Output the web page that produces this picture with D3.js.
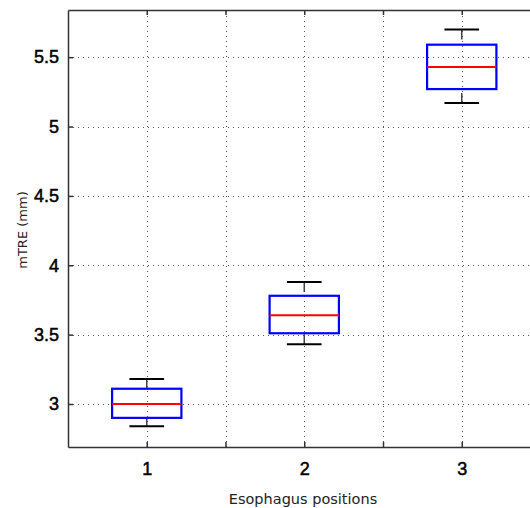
<!DOCTYPE html>
<html><head><meta charset="utf-8">
<script src="https://cdn.jsdelivr.net/npm/d3@7"></script>
<style>body{margin:0;background:#fff}svg{display:block}</style>
</head><body>
<script>
// Data
const categories = [1, 2, 3];
const lowerWhisker = [2.84, 3.43, 5.17];
const q1 = [2.90, 3.51, 5.27];
const median = [3.00, 3.64, 5.43];
const q3 = [3.11, 3.78, 5.59];
const upperWhisker = [3.18, 3.88, 5.70];
const yTicks = [3, 3.5, 4, 4.5, 5, 5.5];
const xTicks = [1, 1.5, 2, 2.5, 3];
const xTickLabels = ["1", "", "2", "", "3"];
const xLabel = "Esophagus positions";
const yLabel = "mTRE (mm)";

const W = 530, H = 508;
const svg = d3.select("body").append("svg").attr("width", W).attr("height", H);
const x = d3.scaleLinear().domain([0.5, 3.5]).range([68, 540.5]);
const y = d3.scaleLinear().domain([2.69, 5.84]).range([447, 10]);
const fontTick = "'DejaVu Sans', sans-serif";

// grid
const grid = svg.append("g").attr("stroke", "#555").attr("stroke-width", 1).attr("stroke-dasharray", "1,4");
yTicks.forEach(t => grid.append("line").attr("x1", x(0.5)).attr("x2", x(3.5)).attr("y1", Math.round(y(t)) + 0.5).attr("y2", Math.round(y(t)) + 0.5));
xTicks.forEach(t => grid.append("line").attr("y1", y(2.69)).attr("y2", y(5.84)).attr("x1", Math.round(x(t)) + 0.5).attr("x2", Math.round(x(t)) + 0.5));

// axes via d3 axes (inward ticks)
const ax = svg.append("g").attr("font-family", fontTick);
const axLeft = ax.append("g").attr("transform", "translate(68,0)")
  .call(d3.axisLeft(y).tickValues(yTicks).tickSizeInner(-5).tickSizeOuter(0).tickFormat(d3.format("")).tickPadding(9));
const axBottom = ax.append("g").attr("transform", "translate(0,447)")
  .call(d3.axisBottom(x).tickValues(xTicks).tickSizeInner(-5).tickSizeOuter(0).tickFormat((d, i) => xTickLabels[i]).tickPadding(15));
const axTop = ax.append("g").attr("transform", "translate(0,10)")
  .call(d3.axisTop(x).tickValues(xTicks).tickSizeInner(-5).tickSizeOuter(0).tickFormat(""));
[axLeft, axBottom, axTop].forEach(g => {
  g.select(".domain").attr("stroke", "#333").attr("stroke-width", 1.5);
  g.selectAll(".tick line").attr("stroke", "#333").attr("stroke-width", 1.5);
  g.selectAll(".tick text").attr("font-size", 18).attr("fill", "#000")
    .attr("stroke", "#000").attr("stroke-width", 0.5);
});
axLeft.selectAll(".tick text").attr("dy", "0.32em");
axBottom.selectAll(".tick text").attr("dy", "0.71em");

// boxes
const hw = 0.22, cw = 0.11;
const gb = svg.append("g");
categories.forEach((c, i) => {
  gb.append("line").attr("x1", x(c)).attr("x2", x(c)).attr("y1", y(upperWhisker[i])).attr("y2", y(q3[i]))
    .attr("stroke", "#444").attr("stroke-width", 1.5).attr("stroke-dasharray", "10,5");
  gb.append("line").attr("x1", x(c)).attr("x2", x(c)).attr("y1", y(lowerWhisker[i])).attr("y2", y(q1[i]))
    .attr("stroke", "#444").attr("stroke-width", 1.5).attr("stroke-dasharray", "10,5");
  [upperWhisker[i], lowerWhisker[i]].forEach(v => gb.append("line")
    .attr("x1", x(c - cw)).attr("x2", x(c + cw)).attr("y1", y(v)).attr("y2", y(v))
    .attr("stroke", "#000").attr("stroke-width", 2));
  gb.append("rect").attr("x", x(c - hw)).attr("width", x(c + hw) - x(c - hw))
    .attr("y", y(q3[i])).attr("height", y(q1[i]) - y(q3[i]))
    .attr("fill", "none").attr("stroke", "#0000ff").attr("stroke-width", 2.2);
  gb.append("line").attr("x1", x(c - hw)).attr("x2", x(c + hw)).attr("y1", y(median[i])).attr("y2", y(median[i]))
    .attr("stroke", "#ff0000").attr("stroke-width", 2);
});

// labels
svg.append("text").attr("x", 303).attr("y", 504).attr("text-anchor", "middle")
  .attr("font-family", fontTick).attr("font-size", 14.5).attr("fill", "#222").text(xLabel);
svg.append("text").attr("transform", "translate(27,230) rotate(-90)").attr("text-anchor", "middle")
  .attr("font-family", fontTick).attr("font-size", 13).attr("fill", "#222").text(yLabel);
</script>
</body></html>
